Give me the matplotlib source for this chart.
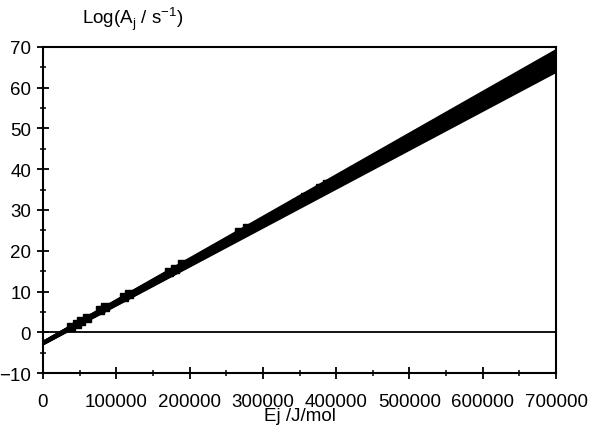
import matplotlib.pyplot as plt
import numpy as np
from matplotlib.ticker import MultipleLocator

plt.rcParams['font.family'] = ['Liberation Sans', 'DejaVu Sans']

# fan of fitted lines: intercept at E=0 and value at E=700000
e_range = [0, 700000]
start_vals = [-2.8, -2.8, -2.7, -2.7, -2.7, -2.6, -2.6, -2.6, -2.5, -2.5, -2.5]
end_vals = [64.0, 64.5, 65.0, 65.5, 66.0, 66.5, 67.0, 67.5, 68.0, 68.5, 69.0]

# measured points (Ej in J/mol, log A)
e_pts = [38000, 46000, 52000, 60000, 78000, 85000, 110000, 118000,
         172000, 180000, 190000, 268000, 278000, 345000, 352000, 358000,
         378000, 388000]
loga_pts = [1.3, 2.1, 2.8, 3.6, 5.4, 6.1, 8.7, 9.5,
            14.8, 15.6, 16.7, 24.5, 25.5, 31.8, 32.5, 33.2,
            35.4, 36.3]

fig = plt.figure(figsize=(5.89, 4.31), dpi=100)
ax = fig.add_axes([0.073, 0.132, 0.871, 0.757])

for s, e in zip(start_vals, end_vals):
    ax.plot(e_range, [s, e], color='black', lw=2.4, solid_capstyle='butt')
ax.plot(e_pts, loga_pts, 's', color='black', ms=6)
ax.axhline(0, color='black', lw=1.3)

ax.set_xlim(0, 700000)
ax.set_ylim(-10, 70)
ax.xaxis.set_major_locator(MultipleLocator(100000))
ax.xaxis.set_minor_locator(MultipleLocator(50000))
ax.yaxis.set_major_locator(MultipleLocator(10))
ax.yaxis.set_minor_locator(MultipleLocator(5))
ax.tick_params(which='major', direction='inout', length=9, width=1.3,
               labelsize=13.5, top=False, right=False, pad=4)
ax.tick_params(which='minor', direction='inout', length=5, width=1.1,
               top=False, right=False)
ax.tick_params(axis='x', which='major', pad=10)
for sp in ax.spines.values():
    sp.set_linewidth(1.5)

ax.set_xlabel('Ej /J/mol', fontsize=13.5, labelpad=-2)
fig.text(0.225, 0.955, r'Log(A$_\mathregular{j}$ / s$^\mathregular{-1}$)',
         fontsize=13.5, ha='center', va='center')

fig.savefig('out.png', dpi=100)
